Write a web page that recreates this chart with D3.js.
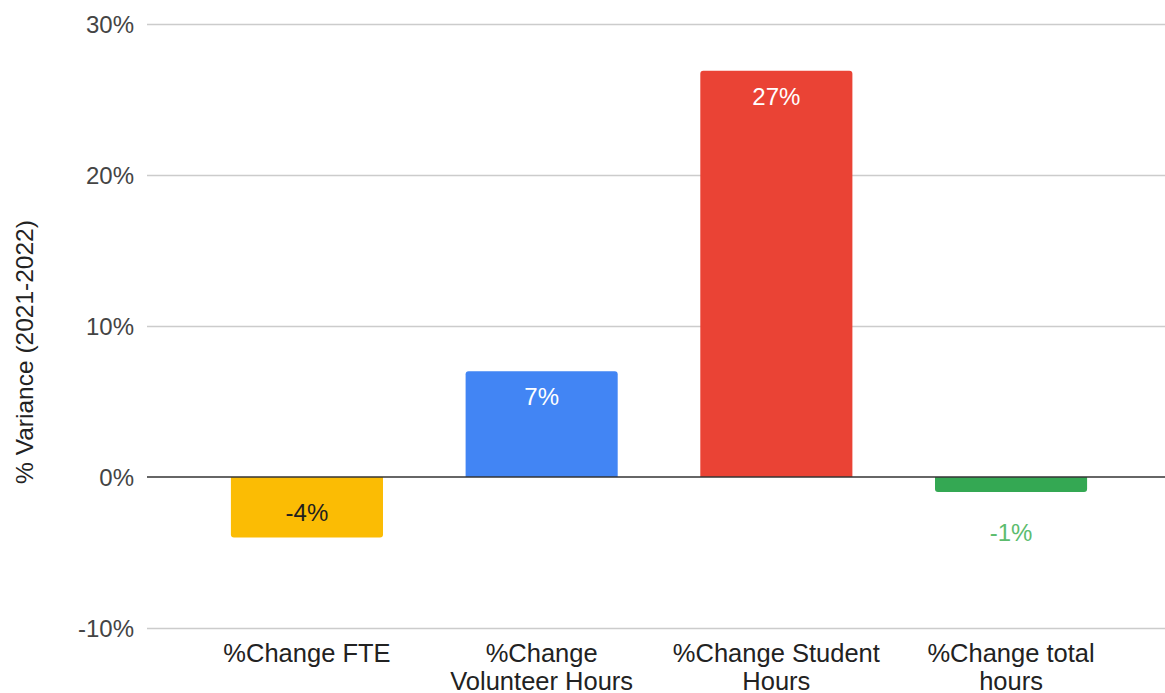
<!DOCTYPE html>
<html><head><meta charset="utf-8">
<script src="https://cdn.jsdelivr.net/npm/d3@7"></script>
<style>body{margin:0;background:#fff}svg{display:block}</style>
</head><body>
<svg id="c" width="1165" height="693"></svg>
<script>
const categories = [["%Change FTE"], ["%Change", "Volunteer Hours"], ["%Change Student", "Hours"], ["%Change total", "hours"]];
const values = [-4, 7, 26.9, -1];
const colors = ["#fbbc04", "#4285f4", "#ea4335", "#34a853"];
const labelColors = ["#1f1f1f", "#ffffff", "#ffffff", "#5cbc6e"];
const yTicks = [-10, 0, 10, 20, 30];
const yTitle = "% Variance (2021-2022)";

const svg = d3.select("#c");
const font = "'Liberation Sans', Arial, sans-serif";
const gridLeft = 147, gridRight = 1165;
const y = d3.scaleLinear().domain([-10, 30]).range([628, 24]);
const x = d3.scaleBand().domain(d3.range(categories.length)).range([189.6, 1128.4]).paddingInner(0.352).paddingOuter(0.176);

// gridlines
svg.append("g").selectAll("line").data(yTicks.filter(d => d !== 0)).join("line")
  .attr("x1", gridLeft).attr("x2", gridRight)
  .attr("y1", d => Math.round(y(d)) + 0.5).attr("y2", d => Math.round(y(d)) + 0.5)
  .attr("stroke", "#cccccc").attr("stroke-width", 1.5);

// y tick labels
const yAxis = d3.axisLeft(y).tickValues(yTicks).tickSize(0).tickPadding(0).tickFormat(d => d + "%");
const ya = svg.append("g").attr("transform", `translate(134,0)`).call(yAxis);
ya.select(".domain").remove();
ya.selectAll("text").attr("font-family", font).attr("font-size", 24).attr("fill", "#444").attr("dy", "0.36em");

// bars with rounded outer end
const r = 3;
function barPath(i) {
  const x0 = x(i), w = x.bandwidth(), y0 = y(0), y1 = y(values[i]);
  if (values[i] >= 0) {
    return `M${x0},${y0}V${y1 + r}Q${x0},${y1} ${x0 + r},${y1}H${x0 + w - r}Q${x0 + w},${y1} ${x0 + w},${y1 + r}V${y0}Z`;
  } else {
    return `M${x0},${y0}V${y1 - r}Q${x0},${y1} ${x0 + r},${y1}H${x0 + w - r}Q${x0 + w},${y1} ${x0 + w},${y1 - r}V${y0}Z`;
  }
}
svg.append("g").selectAll("path").data(values).join("path")
  .attr("d", (d, i) => barPath(i)).attr("fill", (d, i) => colors[i]);

// zero line
svg.append("line").attr("x1", gridLeft).attr("x2", gridRight)
  .attr("y1", y(0)).attr("y2", y(0)).attr("stroke", "#333").attr("stroke-width", 1.5);

// bar labels
svg.append("g").selectAll("text").data(values).join("text")
  .attr("x", (d, i) => x(i) + x.bandwidth() / 2)
  .attr("y", (d, i) => {
    const h = Math.abs(y(d) - y(0));
    if (d >= 0) return y(d) + 34;
    if (h > 40) return y(d) - 16;
    return y(d) + 49;
  })
  .attr("text-anchor", "middle").attr("font-family", font).attr("font-size", 24)
  .attr("fill", (d, i) => labelColors[i])
  .text(d => Math.round(d) + "%");

// category labels
const cat = svg.append("g").selectAll("text").data(categories).join("text")
  .attr("text-anchor", "middle").attr("font-family", font).attr("font-size", 25.5).attr("fill", "#222")
  .attr("transform", (d, i) => `translate(${x(i) + x.bandwidth() / 2},662)`);
cat.selectAll("tspan").data(d => d).join("tspan")
  .attr("x", 0).attr("y", (d, j) => j * 27.5).text(d => d);

// y title
svg.append("text").attr("transform", "translate(33,352) rotate(-90)")
  .attr("text-anchor", "middle").attr("font-family", font).attr("font-size", 24.5).attr("fill", "#222")
  .text(yTitle);
</script>
</body></html>
